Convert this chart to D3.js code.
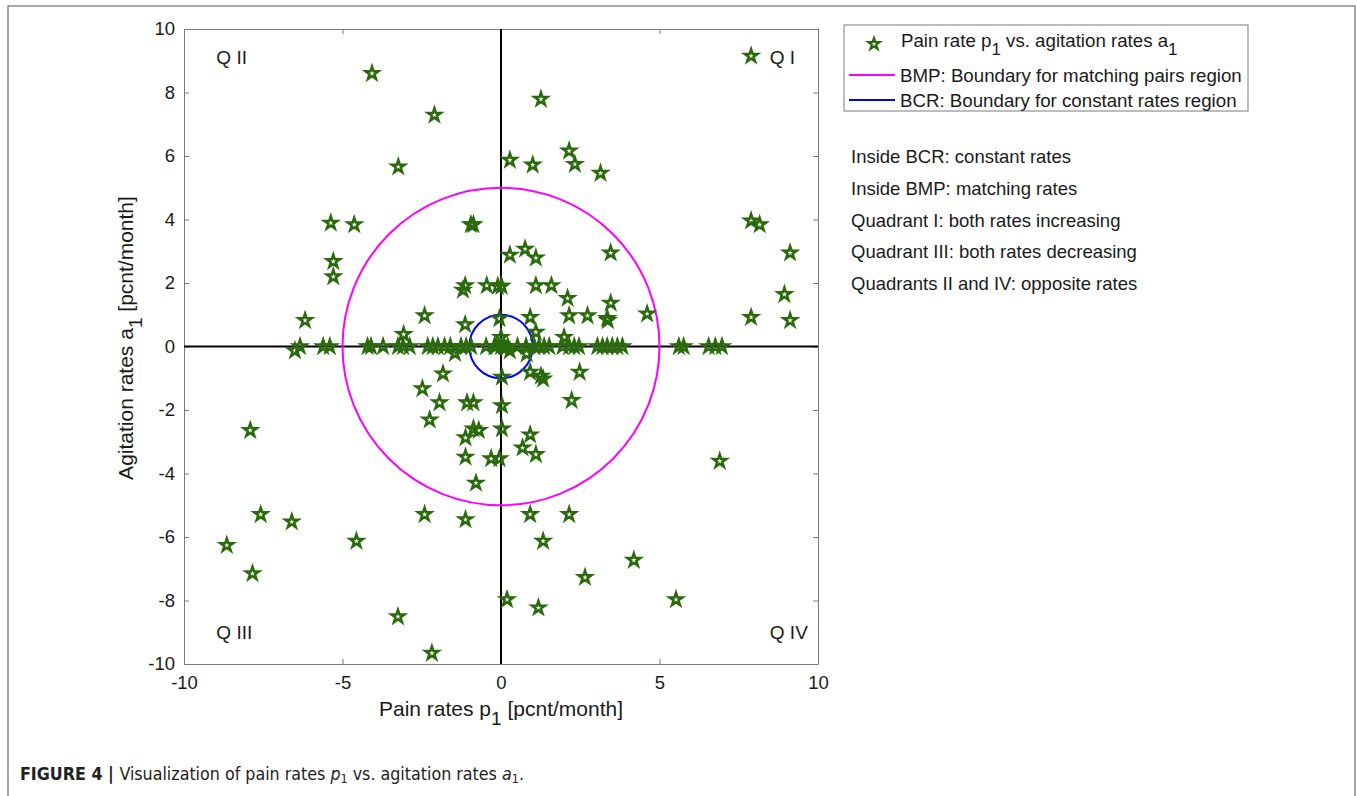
<!DOCTYPE html>
<html>
<head>
<meta charset="utf-8">
<script src="https://cdn.jsdelivr.net/npm/d3@7"></script>
<style>
  body { margin: 0; background: #fff; }
  svg { display: block; font-family: "Liberation Sans", Arial, Helvetica, sans-serif; }
</style>
</head>
<body>
<div id="chart"></div>
<script>
// Pain rates p1 (x) and agitation rates a1 (y)
const painRates = [
  -4.07, -2.10, -3.24, -5.37, -4.63, -0.95, -0.87, -5.29, -5.29, -6.18,
  -2.41, -3.07, -1.13, -1.20, -0.45, -0.10, 0.02, -1.13, -0.05, 0.00,
  7.89, 1.26, 0.28, 1.00, 2.15, 2.33, 3.14, 7.89, 8.16, 9.12,
  8.94, 7.89, 9.12, 0.28, 0.76, 1.10, 3.46, 1.10, 1.59, 2.10,
  3.46, 2.15, 2.73, 3.35, 3.37, 4.61, 0.92, 1.10, 1.99,
  -6.50, -1.83, -2.48, -1.94, -1.07, -0.87, -2.25, -7.91, -0.87, -0.70,
  -1.12, -1.12, -0.31, -0.05, -0.79, -7.58, -6.60, -2.41, -1.12, -8.65,
  -4.56, -7.84, -3.25, -2.18, 0.03, 0.03, 0.03, -1.45,
  0.28, 0.81, 0.92, 1.26, 1.33, 2.48, 2.23, 0.92, 0.68, 1.10,
  6.90, 0.92, 2.15, 1.33, 4.19, 2.65, 0.19, 1.18, 5.52,
  // points lying on the p1 axis
  -6.34, -5.61, -5.40, -4.21, -4.10, -3.72, -3.25, -3.09, -2.88, -2.31,
  -2.15, -1.99, -1.78, -1.60, -1.26, -1.10, -0.94, -0.47, -0.21, -0.16,
  0.00, 0.10, 0.21, 0.52, 0.79, 1.05, 1.20, 1.36, 1.52, 1.94,
  2.15, 2.31, 2.46, 3.04, 3.20, 3.35, 3.51, 3.67, 3.83, 5.61,
  5.76, 6.55, 6.76, 6.97
];
const agitationRates = [
  8.60, 7.29, 5.66, 3.89, 3.84, 3.84, 3.84, 2.68, 2.20, 0.82,
  0.97, 0.38, 1.92, 1.78, 1.92, 1.90, 1.90, 0.69, 0.88, 0.29,
  9.15, 7.79, 5.87, 5.72, 6.16, 5.74, 5.46, 3.96, 3.84, 2.95,
  1.64, 0.92, 0.82, 2.88, 3.07, 2.79, 2.95, 1.92, 1.92, 1.52,
  1.37, 0.97, 0.97, 0.89, 0.82, 1.03, 0.92, 0.45, 0.29,
  -0.13, -0.86, -1.33, -1.77, -1.77, -1.77, -2.31, -2.64, -2.59, -2.64,
  -2.87, -3.48, -3.53, -3.53, -4.30, -5.29, -5.52, -5.29, -5.45, -6.26,
  -6.13, -7.15, -8.51, -9.66, -0.96, -1.86, -2.59, -0.21,
  -0.13, -0.23, -0.81, -0.93, -1.02, -0.81, -1.70, -2.78, -3.19, -3.40,
  -3.61, -5.29, -5.29, -6.13, -6.73, -7.27, -7.97, -8.23, -7.97,
  0, 0, 0, 0, 0, 0, 0, 0, 0, 0,
  0, 0, 0, 0, 0, 0, 0, 0, 0, 0,
  0, 0, 0, 0, 0, 0, 0, 0, 0, 0,
  0, 0, 0, 0, 0, 0, 0, 0, 0, 0,
  0, 0, 0, 0
];

const xTicks = [-10, -5, 0, 5, 10];
const yTicks = [-10, -8, -6, -4, -2, 0, 2, 4, 6, 8, 10];
const boundaryRadii = [5, 1];            // BMP, BCR
const boundaryColors = ['#ff00ff', '#0000ff'];
const quadrantLabels = [
  { name: 'Q II', p: -8.98, a: 9.1 },
  { name: 'Q I', p: 8.48, a: 9.1 },
  { name: 'Q III', p: -8.98, a: -9.0 },
  { name: 'Q IV', p: 8.48, a: -9.0 }
];
const notes = [
  'Inside BCR: constant rates',
  'Inside BMP: matching rates',
  'Quadrant I: both rates increasing',
  'Quadrant III: both rates decreasing',
  'Quadrants II and IV: opposite rates'
];

const width = 1357;
const height = 796;
const green = '#2b6a0c';
const axisGray = '#7a7a7a';
const textColor = '#1a1a1a';

const svg = d3.select('#chart')
  .append('svg')
  .attr('width', width)
  .attr('height', height);

// outer figure frame
svg.append('rect')
  .attr('x', 8).attr('y', 6)
  .attr('width', 1347).attr('height', 800)
  .attr('fill', 'none')
  .attr('stroke', '#8a8a8a')
  .attr('stroke-width', 1.5);

const x = d3.scaleLinear().domain([-10, 10]).range([184, 818]);
const y = d3.scaleLinear().domain([-10, 10]).range([664, 29]);
const plain = d => String(d);   // hyphen-minus like the original

// axes with inward ticks on all four sides
const axes = svg.append('g');
const styleAxis = g => {
  g.select('.domain').attr('stroke', axisGray);
  g.selectAll('.tick line').attr('stroke', axisGray);
  g.selectAll('.tick text').attr('fill', textColor)
    .style('font-size', '18.5px')
    .style('font-family', '"Liberation Sans", Arial, sans-serif');
};
axes.append('g')
  .attr('transform', `translate(0,${y(-10)})`)
  .call(d3.axisBottom(x).tickValues(xTicks).tickFormat(plain).tickSizeInner(-5).tickSizeOuter(0).tickPadding(12))
  .call(styleAxis);
axes.append('g')
  .attr('transform', `translate(0,${y(10)})`)
  .call(d3.axisTop(x).tickValues(xTicks).tickSizeInner(-5).tickSizeOuter(0).tickFormat(''))
  .call(styleAxis);
axes.append('g')
  .attr('transform', `translate(${x(-10)},0)`)
  .call(d3.axisLeft(y).tickValues(yTicks).tickFormat(plain).tickSizeInner(-5).tickSizeOuter(0).tickPadding(9))
  .call(styleAxis);
axes.append('g')
  .attr('transform', `translate(${x(10)},0)`)
  .call(d3.axisRight(y).tickValues(yTicks).tickSizeInner(-5).tickSizeOuter(0).tickFormat(''))
  .call(styleAxis);

// zero lines
svg.append('line')
  .attr('x1', x(-10)).attr('x2', x(10))
  .attr('y1', y(0)).attr('y2', y(0))
  .attr('stroke', '#000').attr('stroke-width', 2);
svg.append('line')
  .attr('x1', x(0)).attr('x2', x(0))
  .attr('y1', y(-10)).attr('y2', y(10))
  .attr('stroke', '#000').attr('stroke-width', 2);

// boundary circles
svg.append('g').selectAll('ellipse')
  .data(boundaryRadii)
  .join('ellipse')
  .attr('cx', x(0)).attr('cy', y(0))
  .attr('rx', d => x(d) - x(0))
  .attr('ry', d => y(0) - y(d))
  .attr('fill', 'none')
  .attr('stroke', (d, i) => boundaryColors[i])
  .attr('stroke-width', 2);

// star markers
const star = d3.symbol(d3.symbolStar, 52);
svg.append('g').selectAll('path')
  .data(d3.zip(painRates, agitationRates))
  .join('path')
  .attr('d', star)
  .attr('transform', d => `translate(${x(d[0])},${y(d[1])})`)
  .attr('fill', 'none')
  .attr('stroke', green)
  .attr('stroke-width', 2.5);

// quadrant labels
svg.append('g').selectAll('text')
  .data(quadrantLabels)
  .join('text')
  .attr('x', d => x(d.p))
  .attr('y', d => y(d.a))
  .attr('dy', '0.35em')
  .style('font-size', '19px')
  .attr('fill', textColor)
  .text(d => d.name);

// titles with a dropped subscript
function subLabel(sel, parts, size) {
  parts.forEach(p => {
    const t = sel.append('tspan').text(p.t);
    if (p.sub) t.attr('baseline-shift', '-45%').style('font-size', size + 'px');
  });
}
const xt = svg.append('text')
  .attr('x', 501).attr('y', 716)
  .attr('text-anchor', 'middle')
  .style('font-size', '21px').attr('fill', textColor);
subLabel(xt, [{ t: 'Pain rates p' }, { t: '1', sub: true }, { t: ' [pcnt/month]' }], 19);

const yt = svg.append('text')
  .attr('transform', 'translate(133,338) rotate(-90)')
  .attr('text-anchor', 'middle')
  .style('font-size', '21px').attr('fill', textColor);
subLabel(yt, [{ t: 'Agitation rates a' }, { t: '1', sub: true }, { t: ' [pcnt/month]' }], 19);

// legend
const legend = svg.append('g');
legend.append('rect')
  .attr('x', 844).attr('y', 25)
  .attr('width', 404).attr('height', 86)
  .attr('fill', '#fff')
  .attr('stroke', axisGray).attr('stroke-width', 1);
legend.append('path')
  .attr('d', d3.symbol(d3.symbolStar, 40))
  .attr('transform', 'translate(874,44)')
  .attr('fill', 'none').attr('stroke', green).attr('stroke-width', 2.2);
const lt = legend.append('text')
  .attr('x', 901).attr('y', 47)
  .style('font-size', '18.7px').attr('fill', textColor);
subLabel(lt, [{ t: 'Pain rate p' }, { t: '1', sub: true }, { t: ' vs. agitation rates a' }, { t: '1', sub: true }], 17);

const lineItems = ['BMP: Boundary for matching pairs region', 'BCR: Boundary for constant rates region'];
lineItems.forEach((label, i) => {
  const yy = 75 + i * 25;
  legend.append('line')
    .attr('x1', 849).attr('x2', 895)
    .attr('y1', yy).attr('y2', yy)
    .attr('stroke', boundaryColors[i]).attr('stroke-width', 2);
  legend.append('text')
    .attr('x', 900).attr('y', yy)
    .attr('dy', '0.35em')
    .style('font-size', '18.7px').attr('fill', textColor)
    .text(label);
});

// explanatory notes
svg.append('g').selectAll('text')
  .data(notes)
  .join('text')
  .attr('x', 851)
  .attr('y', (d, i) => 157 + i * 31.6)
  .attr('dy', '0.35em')
  .style('font-size', '18.5px')
  .attr('fill', textColor)
  .text(d => d);

// figure caption
const cap = svg.append('text')
  .attr('x', 20).attr('y', 780)
  .style('font-family', '"Liberation Sans Narrow", "DejaVu Sans Condensed", Arial, sans-serif')
  .style('font-size', '17.7px')
  .attr('fill', '#222');
cap.append('tspan').style('font-weight', 'bold').text('FIGURE 4 | ');
cap.append('tspan').text('Visualization of pain rates ');
cap.append('tspan').style('font-style', 'italic').text('p');
cap.append('tspan').attr('baseline-shift', '-20%').style('font-size', '12.5px').text('1');
cap.append('tspan').text(' vs. agitation rates ');
cap.append('tspan').style('font-style', 'italic').text('a');
cap.append('tspan').attr('baseline-shift', '-20%').style('font-size', '12.5px').text('1');
cap.append('tspan').text('.');
</script>
</body>
</html>
